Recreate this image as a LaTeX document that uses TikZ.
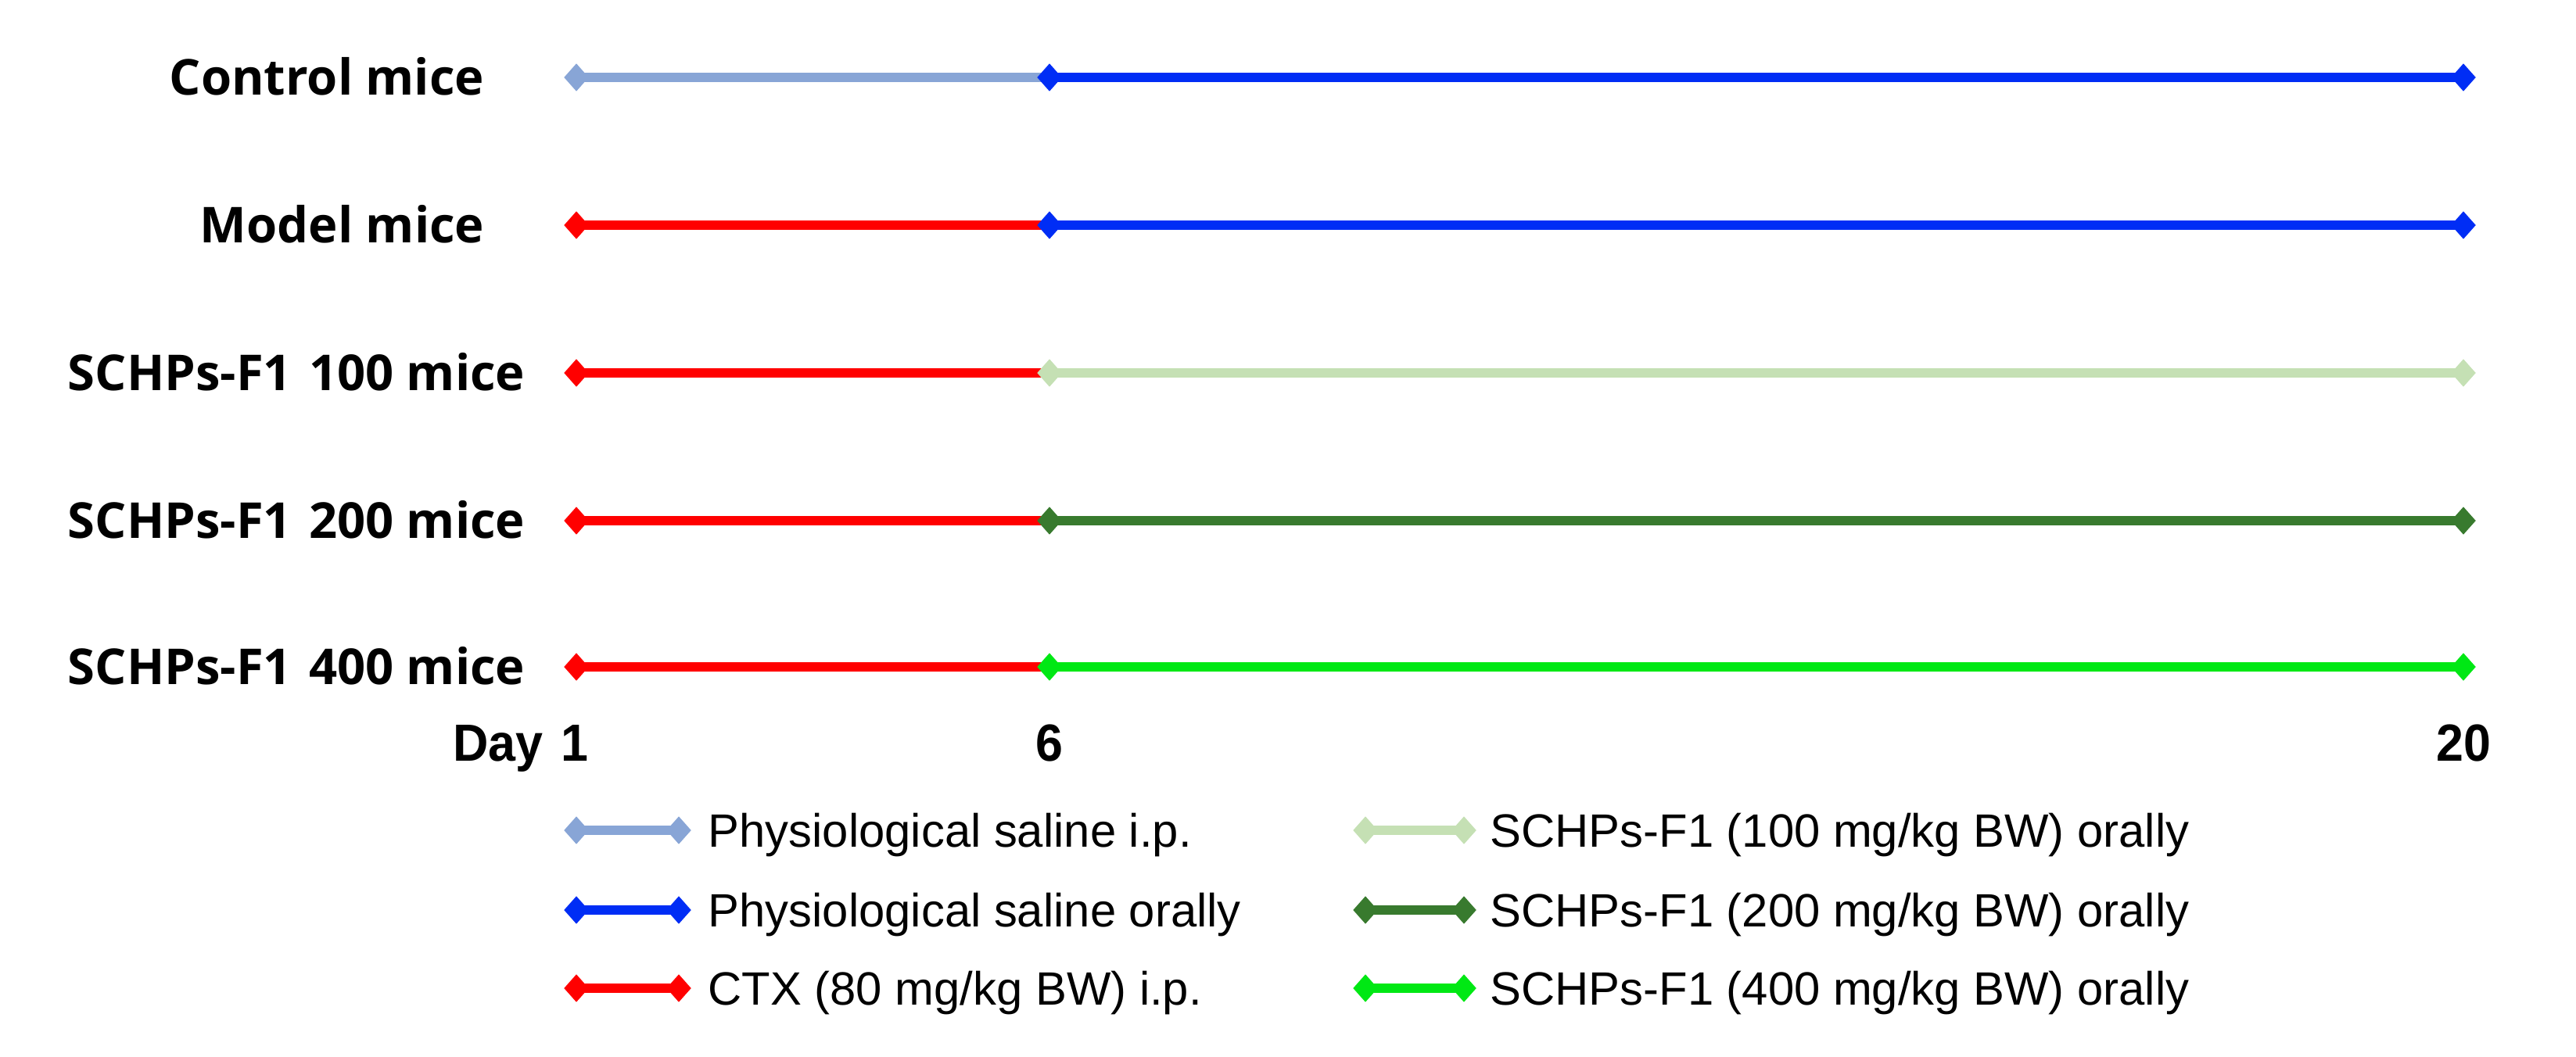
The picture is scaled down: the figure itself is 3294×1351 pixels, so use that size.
\documentclass[tikz,border=0pt]{standalone}
\usepackage{fontspec}
\setmainfont{Open Sans}
\newfontfamily\arialf{Liberation Sans}
\usetikzlibrary{shapes.geometric}
\definecolor{lblue}{RGB}{136,165,214}
\definecolor{dblue}{RGB}{0,45,245}
\definecolor{cred}{RGB}{255,0,0}
\definecolor{lgreen}{RGB}{197,224,180}
\definecolor{dgreen}{RGB}{56,122,46}
\definecolor{bgreen}{RGB}{0,232,20}
\newcommand{\nar}[1]{\scalebox{0.94}[1]{#1}}
\begin{document}
\begin{tikzpicture}[x=0.01cm,y=-0.01cm,
  dia/.style={diamond, fill=#1, draw=none, inner sep=0pt, minimum width=0.32cm, minimum height=0.36cm},
  seg/.style={draw=#1, line width=0.12cm},
  grp/.style={font=\bfseries\fontsize{18}{21}\selectfont, anchor=base east, inner sep=0pt},
  daylab/.style={font=\arialf\bfseries\fontsize{19}{22}\selectfont, inner sep=0pt, anchor=base},
  leg/.style={font=\arialf\fontsize{17}{20}\selectfont, anchor=base west, inner sep=0pt}]
\useasboundingbox (0,0) rectangle (3294,1351);

% group labels
\node[grp] (l1) at (620,121) {Control mice};
\node[grp] (l2) at (620,310) {Model mice};
\node[grp] (l3) at (672,499) {SCHPs-F1\hspace{0.35em}100 mice};
\node[grp] (l4) at (672,688) {SCHPs-F1\hspace{0.35em}200 mice};
\node[grp] (l5) at (672,875) {SCHPs-F1\hspace{0.35em}400 mice};

% timelines: row 1
\coordinate (a1) at (737,99); \coordinate (b1) at (1342,99); \coordinate (c1) at (3150,99);
\draw[seg=lblue] (a1) -- (b1);
\draw[seg=dblue] (b1) -- (c1);
\node[dia=lblue] (da1) at (a1) {};
\node[dia=dblue] (db1) at (b1) {};
\node[dia=dblue] (dc1) at (c1) {};
% row 2
\coordinate (a2) at (737,288); \coordinate (b2) at (1342,288); \coordinate (c2) at (3150,288);
\draw[seg=cred] (a2) -- (b2);
\draw[seg=dblue] (b2) -- (c2);
\node[dia=cred] (da2) at (a2) {};
\node[dia=dblue] (db2) at (b2) {};
\node[dia=dblue] (dc2) at (c2) {};
% row 3
\coordinate (a3) at (737,477); \coordinate (b3) at (1342,477); \coordinate (c3) at (3150,477);
\draw[seg=cred] (a3) -- (b3);
\draw[seg=lgreen] (b3) -- (c3);
\node[dia=cred] (da3) at (a3) {};
\node[dia=lgreen] (db3) at (b3) {};
\node[dia=lgreen] (dc3) at (c3) {};
% row 4
\coordinate (a4) at (737,666); \coordinate (b4) at (1342,666); \coordinate (c4) at (3150,666);
\draw[seg=cred] (a4) -- (b4);
\draw[seg=dgreen] (b4) -- (c4);
\node[dia=cred] (da4) at (a4) {};
\node[dia=dgreen] (db4) at (b4) {};
\node[dia=dgreen] (dc4) at (c4) {};
% row 5
\coordinate (a5) at (737,853); \coordinate (b5) at (1342,853); \coordinate (c5) at (3150,853);
\draw[seg=cred] (a5) -- (b5);
\draw[seg=bgreen] (b5) -- (c5);
\node[dia=cred] (da5) at (a5) {};
\node[dia=bgreen] (db5) at (b5) {};
\node[dia=bgreen] (dc5) at (c5) {};

% day axis
\node[daylab, anchor=base east] (day) at (695,973) {\nar{Day}};
\node[daylab] (d1) at (735,973) {\nar{1}};
\node[daylab] (d6) at (1342,973) {\nar{6}};
\node[daylab] (d20) at (3150,973) {\nar{20}};

% legend column 1
\foreach \i/\y/\c/\t in {1/1062/lblue/{Physiological saline i.p.},
                        2/1164/dblue/{Physiological saline orally},
                        3/1264/cred/{CTX (80 mg/kg BW) i.p.}}{
  \coordinate (la\i) at (737,\y); \coordinate (lb\i) at (868,\y);
  \draw[seg=\c] (la\i) -- (lb\i);
  \node[dia=\c] at (la\i) {};
  \node[dia=\c] at (lb\i) {};
  \node[leg] (lt\i) at (905,\y+21) {\t};
}
% legend column 2
\foreach \i/\y/\c/\t in {1/1062/lgreen/{SCHPs-F1 (100 mg/kg BW) orally},
                        2/1164/dgreen/{SCHPs-F1 (200 mg/kg BW) orally},
                        3/1264/bgreen/{SCHPs-F1 (400 mg/kg BW) orally}}{
  \coordinate (ma\i) at (1746,\y); \coordinate (mb\i) at (1872,\y);
  \draw[seg=\c] (ma\i) -- (mb\i);
  \node[dia=\c] at (ma\i) {};
  \node[dia=\c] at (mb\i) {};
  \node[leg] (mt\i) at (1905,\y+21) {\t};
}
\end{tikzpicture}
\end{document}
